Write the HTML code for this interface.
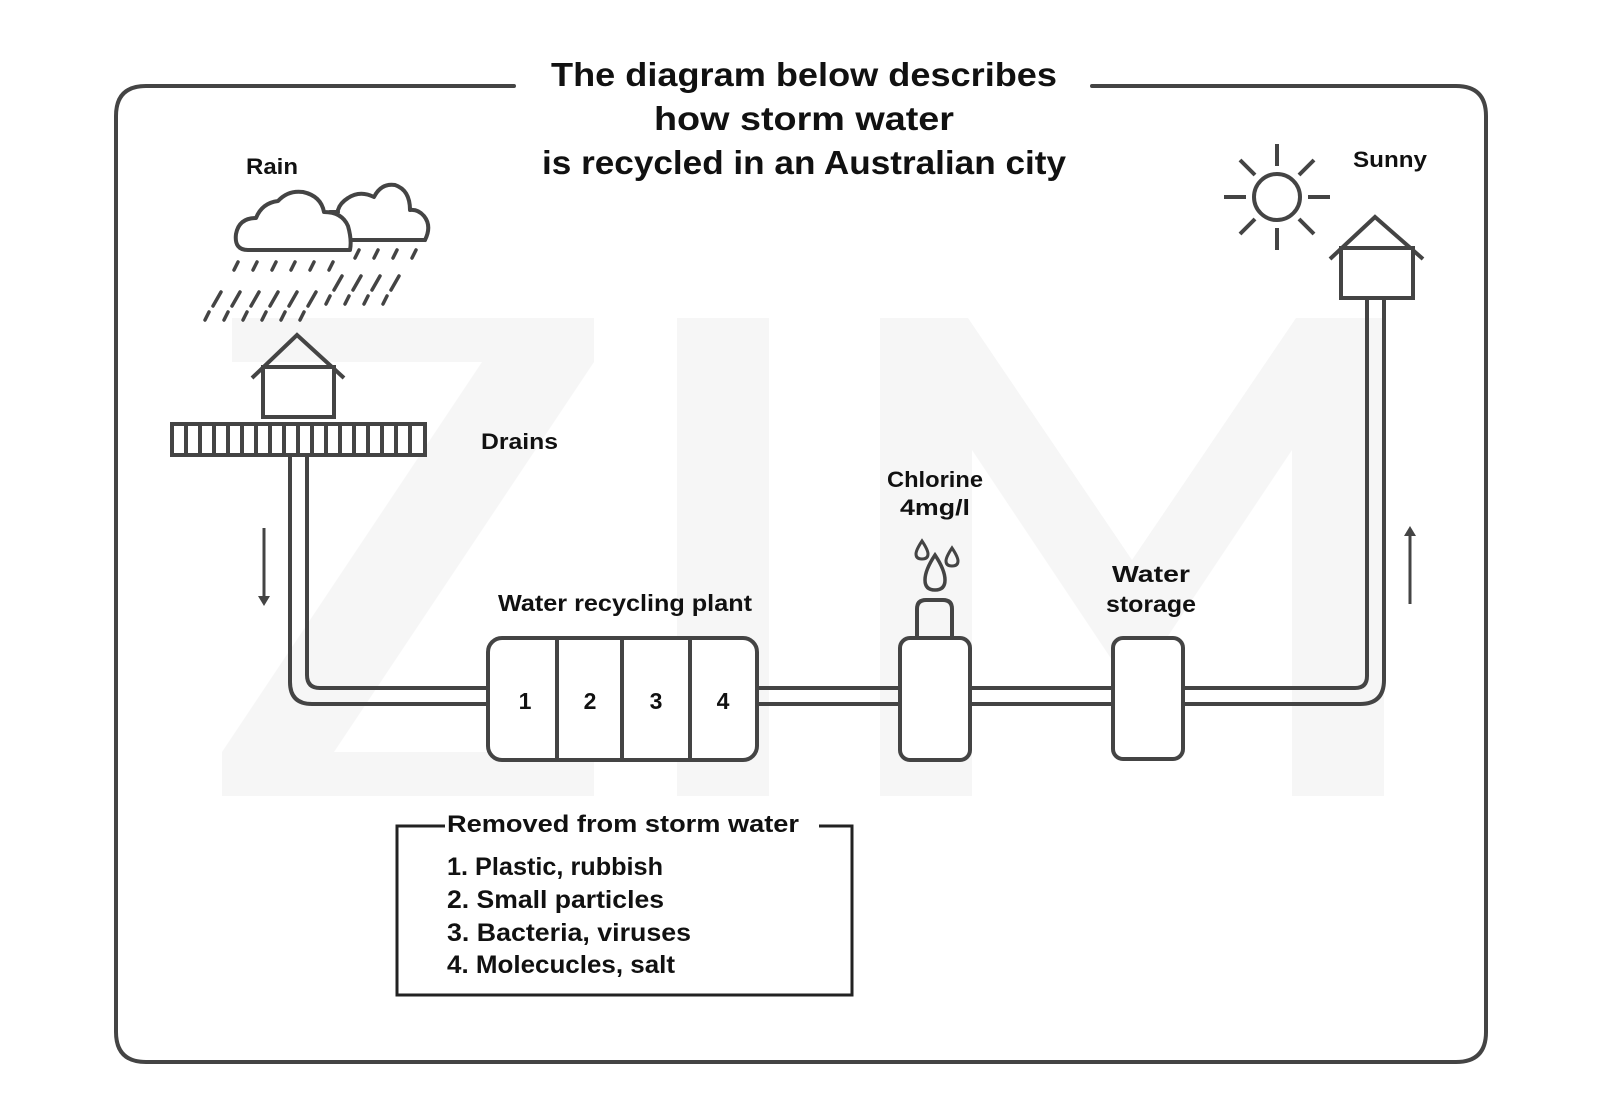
<!DOCTYPE html>
<html><head><meta charset="utf-8"><style>
html,body{margin:0;padding:0;background:#fff;}
svg{display:block;}
text{font-family:"Liberation Sans",sans-serif;font-weight:bold;fill:#111;}
</style></head><body>
<svg width="1600" height="1113" viewBox="0 0 1600 1113" xmlns="http://www.w3.org/2000/svg">
<g fill="#f6f6f6">
<polygon points="232,318 594,318 594,362 334,752 594,752 594,796 222,796 222,752 482,362 232,362"/>
<rect x="677" y="318" width="92" height="478"/>
<polygon points="880,318 968,318 1132,560 1296,318 1384,318 1384,796 1292,796 1292,450 1132,690 972,450 972,796 880,796"/>
</g>
<g fill="none" stroke="#444" stroke-width="4" stroke-linecap="round" stroke-linejoin="round">
<path d="M514,86 H146 Q116,86 116,116 V1032 Q116,1062 146,1062 H1456 Q1486,1062 1486,1032 V116 Q1486,86 1456,86 H1092"/>
<path d="M425,240 Q432,226 424,216 Q418,209 410,210 Q410,190 395,185 Q381,183 374,197 Q360,190 348,198 Q340,203 338,210"/>
<path d="M330,212 L338,212"/>
<path d="M340,240 H425"/>
<path d="M350,250 H248 Q234,250 236,234 Q239,218 256,218 Q262,203 278,201 Q288,190 303,192 Q321,196 324,212 Q342,212 348,226 Q352,240 350,250 Z" fill="#fff"/>
</g>
<g stroke="#444" stroke-width="3.5" stroke-linecap="round">
<path d="M238,262 l-4,8 M257,262 l-4,8 M276,262 l-4,8 M295,262 l-4,8 M314,262 l-4,8 M333,262 l-4,8 M359,250 l-4,8 M378,250 l-4,8 M397,250 l-4,8 M416,250 l-4,8
M221,292 l-8,14 M240,292 l-8,14 M259,292 l-8,14 M278,292 l-8,14 M297,292 l-8,14 M316,292 l-8,14 M342,276 l-8,14 M361,276 l-8,14 M380,276 l-8,14 M399,276 l-8,14
M209,312 l-4,8 M228,312 l-4,8 M247,312 l-4,8 M266,312 l-4,8 M285,312 l-4,8 M304,312 l-4,8 M330,296 l-4,8 M349,296 l-4,8 M368,296 l-4,8 M387,296 l-4,8"/>
</g>
<g fill="none" stroke="#444" stroke-width="4">
<path d="M252,378 L297,335 L344,378"/>
<path d="M261,367 H333"/>
<rect x="263" y="367" width="71" height="50" fill="#fff"/>
<rect x="172" y="424" width="253" height="31" fill="#fff"/>
<path d="M186,424V455 M200,424V455 M214,424V455 M228,424V455 M242,424V455 M256,424V455 M270,424V455 M284,424V455 M298,424V455 M312,424V455 M326,424V455 M340,424V455 M354,424V455 M368,424V455 M382,424V455 M396,424V455 M410,424V455"/>
<path d="M290,456 V682 Q290,704 312,704 H488"/>
<path d="M307,456 V675 Q307,688 320,688 H488"/>
<path d="M757,688 H900 M757,704 H900 M970,688 H1113 M970,704 H1113"/>
<path d="M1183,688 H1355 Q1367,688 1367,676 V298"/>
<path d="M1183,704 H1360 Q1384,704 1384,680 V298"/>
<rect x="488" y="638" width="269" height="122" rx="14" fill="#fff"/>
<path d="M557,638V760 M622,638V760 M690,638V760"/>
<rect x="900" y="638" width="70" height="122" rx="10" fill="#fff"/>
<path d="M917,638 V609 Q917,600 926,600 H943 Q952,600 952,609 V638"/>
<path d="M935,555 Q925,570 925,580 Q925,590 935,590 Q945,590 945,580 Q945,570 935,555 Z" stroke-width="3.5"/>
<path d="M922,541 Q916,550 916,554 Q916,559 922,559 Q928,559 928,554 Q928,550 922,541 Z" stroke-width="3"/>
<path d="M952,548 Q946,557 946,561 Q946,566 952,566 Q958,566 958,561 Q958,557 952,548 Z" stroke-width="3"/>
<rect x="1113" y="638" width="70" height="121" rx="10" fill="#fff"/>
<path d="M1330,259 L1375,217 L1423,259"/>
<path d="M1340,248 H1413"/>
<rect x="1341" y="248" width="72" height="50" fill="#fff"/>
<circle cx="1277" cy="197" r="23"/>
</g>
<g stroke="#444" stroke-width="4" stroke-linecap="butt">
<path d="M1277,144V166 M1277,228V250 M1224,197H1246 M1308,197H1330 M1240,160l15,15 M1299,219l15,15 M1314,160l-15,15 M1255,219l-15,15"/>
<path d="M264,528V600 M1410,532V604" stroke-width="3"/>
</g>
<path d="M258,596 L264,606 L270,596 Z M1404,536 L1410,526 L1416,536 Z" fill="#444"/>
<path d="M445,826 H397 V995 H852 V826 H819" fill="none" stroke="#222" stroke-width="3"/>
<text x="804" y="86" font-size="33" text-anchor="middle" textLength="506" lengthAdjust="spacingAndGlyphs">The diagram below describes</text>
<text x="804" y="130" font-size="33" text-anchor="middle" textLength="300" lengthAdjust="spacingAndGlyphs">how storm water</text>
<text x="804" y="174" font-size="33" text-anchor="middle" textLength="524" lengthAdjust="spacingAndGlyphs">is recycled in an Australian city</text>
<text x="246" y="174" font-size="22" textLength="52" lengthAdjust="spacingAndGlyphs">Rain</text>
<text x="1353" y="167" font-size="22" textLength="74" lengthAdjust="spacingAndGlyphs">Sunny</text>
<text x="481" y="449" font-size="22" textLength="77" lengthAdjust="spacingAndGlyphs">Drains</text>
<text x="498" y="611" font-size="23" textLength="254" lengthAdjust="spacingAndGlyphs">Water recycling plant</text>
<text x="935" y="487" font-size="22" text-anchor="middle" textLength="96" lengthAdjust="spacingAndGlyphs">Chlorine</text>
<text x="935" y="515" font-size="22" text-anchor="middle" textLength="70" lengthAdjust="spacingAndGlyphs">4mg/l</text>
<text x="1151" y="582" font-size="23" text-anchor="middle" textLength="78" lengthAdjust="spacingAndGlyphs">Water</text>
<text x="1151" y="612" font-size="23" text-anchor="middle" textLength="90" lengthAdjust="spacingAndGlyphs">storage</text>
<text x="525" y="709" font-size="23" text-anchor="middle">1</text>
<text x="590" y="709" font-size="23" text-anchor="middle">2</text>
<text x="656" y="709" font-size="23" text-anchor="middle">3</text>
<text x="723" y="709" font-size="23" text-anchor="middle">4</text>
<text x="447" y="832" font-size="24" textLength="352" lengthAdjust="spacingAndGlyphs">Removed from storm water</text>
<text x="447" y="875" font-size="25" textLength="216" lengthAdjust="spacingAndGlyphs">1. Plastic, rubbish</text>
<text x="447" y="908" font-size="25" textLength="217" lengthAdjust="spacingAndGlyphs">2. Small particles</text>
<text x="447" y="941" font-size="25" textLength="244" lengthAdjust="spacingAndGlyphs">3. Bacteria, viruses</text>
<text x="447" y="973" font-size="25" textLength="228" lengthAdjust="spacingAndGlyphs">4. Molecucles, salt</text>
</svg>
</body></html>
